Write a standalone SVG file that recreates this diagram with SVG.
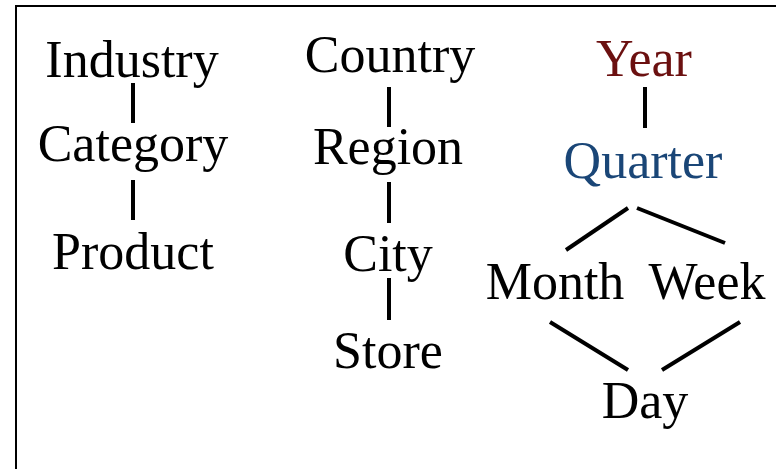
<svg xmlns="http://www.w3.org/2000/svg" width="776" height="469" viewBox="0 0 776 469">
<style>
text{font-family:"Liberation Serif","Times New Roman",serif;font-size:52px;text-anchor:middle;fill:#000}
.conn line{stroke:#000;stroke-width:4;stroke-linecap:butt}
</style>
<rect x="0" y="0" width="776" height="469" fill="#fff"/>
<rect x="16" y="6" width="800" height="500" fill="none" stroke="#000" stroke-width="2"/>
<g id="industry"><text x="132" y="77">Industry</text></g>
<g id="category"><text x="133" y="161">Category</text></g>
<g id="product"><text x="133" y="269">Product</text></g>
<g id="country"><text x="390" y="72">Country</text></g>
<g id="region"><text x="388" y="164">Region</text></g>
<g id="city"><text x="388" y="271">City</text></g>
<g id="store"><text x="388" y="368">Store</text></g>
<g id="year"><text x="644" y="76" style="fill:#6b1010">Year</text></g>
<g id="quarter"><text x="643" y="178" style="fill:#1a4677">Quarter</text></g>
<g id="month"><text x="555" y="299">Month</text></g>
<g id="week"><text x="707" y="299">Week</text></g>
<g id="day"><text x="645" y="418">Day</text></g>
<g class="conn" id="connectors">
<line x1="133" y1="83" x2="133" y2="123"/>
<line x1="133" y1="180" x2="133" y2="220"/>
<line x1="389" y1="87" x2="389" y2="127"/>
<line x1="389" y1="182" x2="389" y2="223"/>
<line x1="389" y1="278" x2="389" y2="320"/>
<line x1="645" y1="87" x2="645" y2="128"/>
<line x1="566" y1="250" x2="628" y2="208"/>
<line x1="637" y1="208" x2="725" y2="243"/>
<line x1="550" y1="322" x2="628" y2="370"/>
<line x1="740" y1="322" x2="662" y2="370"/>
</g>
</svg>
